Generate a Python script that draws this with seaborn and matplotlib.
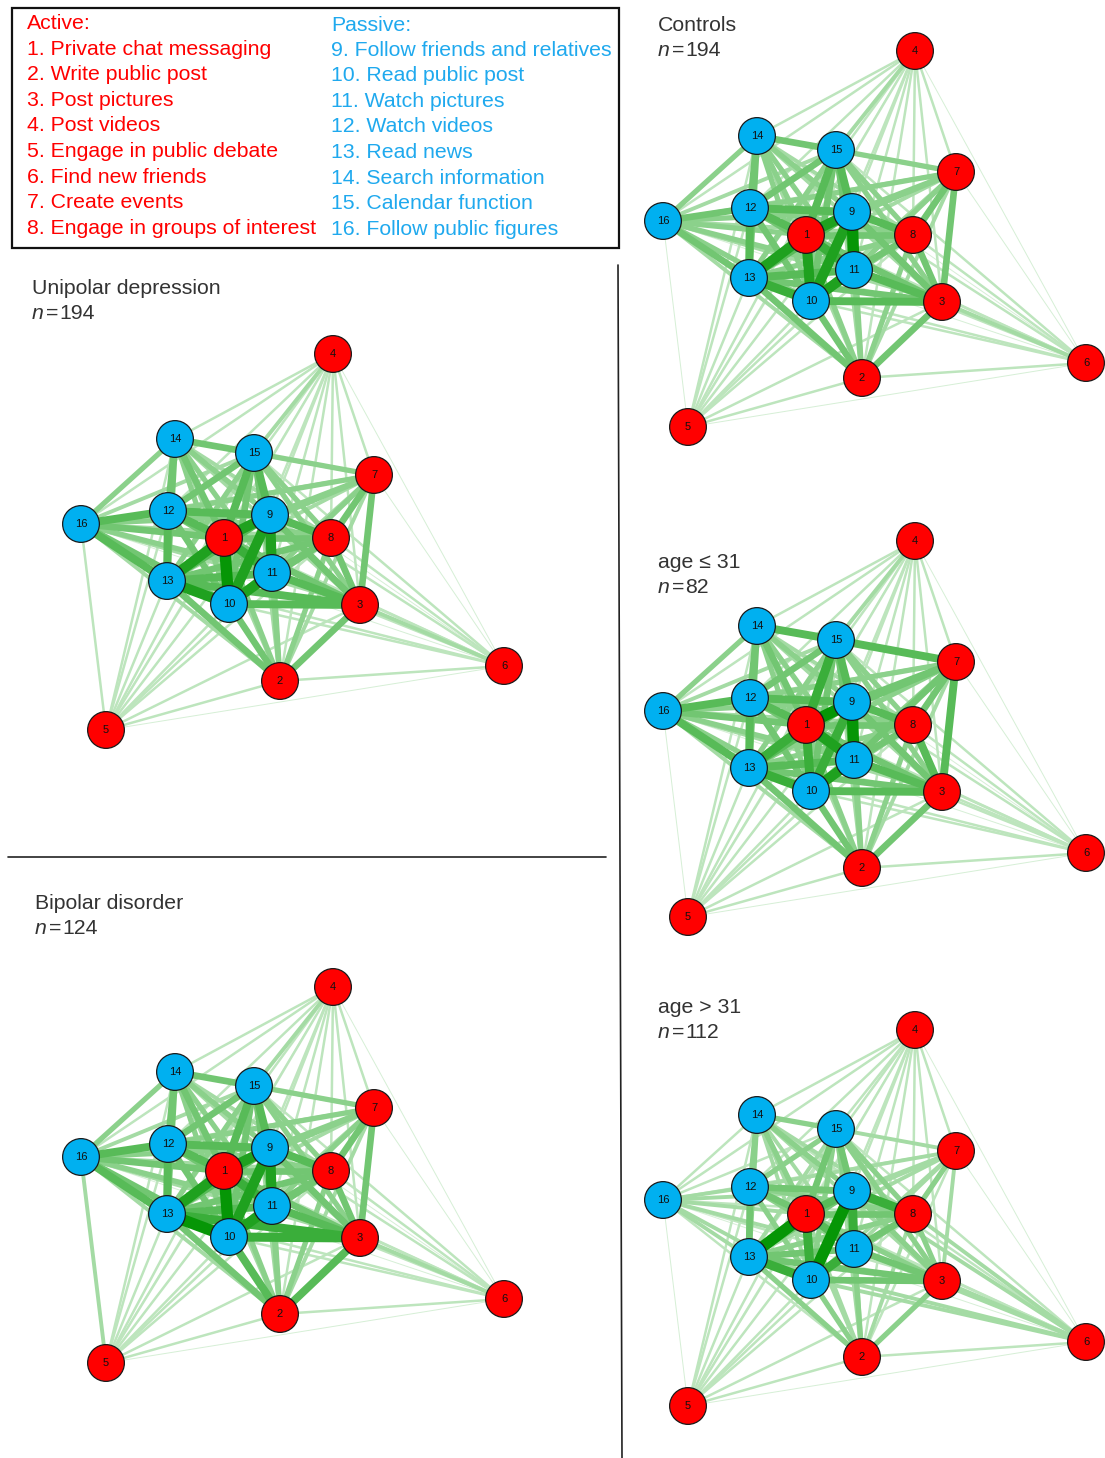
import numpy as np
import pandas as pd
import matplotlib
matplotlib.use("Agg")
import matplotlib.pyplot as plt
from matplotlib.patches import Rectangle
import seaborn as sns

# ── Data ──────────────────────────────────────────────────────────────────────
ACTIVE_ITEMS = [
    "Private chat messaging", "Write public post", "Post pictures",
    "Post videos", "Engage in public debate", "Find new friends",
    "Create events", "Engage in groups of interest",
]
PASSIVE_ITEMS = [
    "Follow friends and relatives", "Read public post", "Watch pictures",
    "Watch videos", "Read news", "Search information",
    "Calendar function", "Follow public figures",
]
NODE_IDS = list(range(1, 17))
NODE_KIND = ["active"] * 8 + ["passive"] * 8

# shared network layout (same for every group)
LAYOUT_X = [166, 222, 302, 275, 48, 446, 316, 273, 212, 171, 214, 110, 109, 117, 196, 23]
LAYOUT_Y = [215, 358, 282, 31, 407, 343, 152, 215, 192, 281, 250, 188, 258, 116, 130, 201]

GROUPS = ["Controls", "Unipolar depression", "Bipolar disorder", "age ≤ 31", "age > 31"]
GROUP_N = [194, 194, 124, 82, 112]

# edge strength (0-9), upper triangle: row i holds node i with nodes i+1..16
W_CONTROLS = [
    "452224588768464", "52223445435333", "2235556645343", "112222222232",
    "11222222221", "1222222121", "543443343", "64544343", "8966464",
    "857454", "56454", "6555", "545", "54", "3",
]
W_UNIPOLAR = [
    "452224589768565", "52223445435333", "2235556646343", "112222222232",
    "11222222222", "1222222121", "543443343", "65545343", "8866464",
    "858455", "56454", "6556", "546", "54", "3",
]
W_BIPOLAR = [
    "452224589768565", "62223446435333", "2235557647343", "112222222232",
    "11222222223", "1222222121", "543443343", "65545343", "8866464",
    "859455", "56454", "6556", "546", "54", "3",
]
W_YOUNG = [
    "452225597867575", "52223445435333", "2226656645343", "112222222232",
    "11222222221", "1222222121", "554544363", "64544343", "7966464",
    "857454", "56454", "6556", "546", "64", "3",
]
W_OLD = [
    "342223567659453", "42222334434332", "2233445535342", "112222222222",
    "11222222221", "1333323221", "433333232", "74544342", "9755453",
    "747343", "45343", "5443", "433", "42", "2",
]
WEIGHTS = [W_CONTROLS, W_UNIPOLAR, W_BIPOLAR, W_YOUNG, W_OLD]

# ── Style / layout ────────────────────────────────────────────────────────────
FIG_W, FIG_H = 1105, 1458
PANEL_W, PANEL_H = 470, 440
PANEL_ORIGIN = [(640, 20), (58, 323), (58, 956), (640, 510), (640, 999)]
TITLE_POS = [(658, 25), (32, 288), (35, 903), (658, 562), (658, 1007)]

RED = "#ff0000"
BLUE = "#00b0f0"
TEXT_BLUE = "#1fa9ee"
TEXT_GREY = "#333333"
EDGE_COLORS = {1: "#d6efd6", 2: "#bde5bd", 3: "#a4dba4", 4: "#8bd18b", 5: "#72c672",
               6: "#58bb58", 7: "#3aae3a", 8: "#1fa11f", 9: "#069606"}
EDGE_WIDTHS = {1: 0.7, 2: 1.8, 3: 2.8, 4: 3.8, 5: 4.8, 6: 5.7, 7: 6.5, 8: 7.3, 9: 8.2}
FS = 15.3

sns.set_theme(style="white")
plt.rcParams["font.family"] = ["Liberation Sans", "DejaVu Sans"]


def edges_frame(rows):
    recs = []
    k = 0
    for i, row in enumerate(rows):
        for off, ch in enumerate(row):
            j = i + 1 + off
            w = int(ch)
            if w == 0:
                continue
            for n in (i, j):
                recs.append({"edge": k, "x": LAYOUT_X[n], "y": LAYOUT_Y[n], "w": w})
            k += 1
    return pd.DataFrame(recs)


nodes = pd.DataFrame({"id": NODE_IDS, "kind": NODE_KIND, "x": LAYOUT_X, "y": LAYOUT_Y})

fig = plt.figure(figsize=(FIG_W / 100, FIG_H / 100), dpi=100)
bg = fig.add_axes([0, 0, 1, 1])
bg.set_xlim(0, FIG_W)
bg.set_ylim(FIG_H, 0)
bg.axis("off")

# legend box
bg.add_patch(Rectangle((12, 8), 607, 240, fill=False, lw=1.6, ec="#111111"))
bg.text(27, 23, "Active:", color=RED, fontsize=FS, va="center")
bg.text(331, 25, "Passive:", color=TEXT_BLUE, fontsize=FS, va="center")
for k, label in enumerate(ACTIVE_ITEMS):
    bg.text(27, 49 + 25.6 * k, f"{k + 1}. {label}", color=RED, fontsize=FS, va="center")
for k, label in enumerate(PASSIVE_ITEMS):
    bg.text(331, 50 + 25.6 * k, f"{k + 9}. {label}", color=TEXT_BLUE, fontsize=FS, va="center")

# separators
bg.plot([618, 622], [265, 1458], color="#222222", lw=1.2)
bg.plot([8, 606], [857, 857], color="#222222", lw=1.2)

for g, title in enumerate(GROUPS):
    tx, ty = TITLE_POS[g]
    bg.text(tx, ty, title, fontsize=FS, color=TEXT_GREY, va="center")
    bg.text(tx, ty + 25, "n", fontsize=FS, color=TEXT_GREY, va="center", fontstyle="italic")
    bg.text(tx + 14, ty + 25, "=", fontsize=FS, color=TEXT_GREY, va="center")
    bg.text(tx + 27, ty + 25, str(GROUP_N[g]), fontsize=FS, color=TEXT_GREY, va="center")

    ox, oy = PANEL_ORIGIN[g]
    ax = fig.add_axes([ox / FIG_W, 1 - (oy + PANEL_H) / FIG_H, PANEL_W / FIG_W, PANEL_H / FIG_H])
    ax.patch.set_alpha(0)
    ax.set_xlim(0, PANEL_W)
    ax.set_ylim(PANEL_H, 0)
    ax.axis("off")

    edges = edges_frame(WEIGHTS[g])
    sns.lineplot(data=edges, x="x", y="y", units="edge", estimator=None,
                 hue="w", size="w", palette=EDGE_COLORS, sizes=EDGE_WIDTHS,
                 sort=False, legend=False, ax=ax, zorder=1, solid_capstyle="butt")
    sns.scatterplot(data=nodes, x="x", y="y", hue="kind",
                    palette={"active": RED, "passive": BLUE}, s=700,
                    edgecolor="#1a1a1a", linewidth=0.9, legend=False, ax=ax, zorder=3)
    for _, r in nodes.iterrows():
        ax.text(r["x"], r["y"], str(r["id"]), fontsize=8, ha="center", va="center",
                color="#111111", zorder=4)
    ax.set_xlim(0, PANEL_W)
    ax.set_ylim(PANEL_H, 0)
    ax.set_xlabel("")
    ax.set_ylabel("")

fig.savefig("out.png", dpi=100)
